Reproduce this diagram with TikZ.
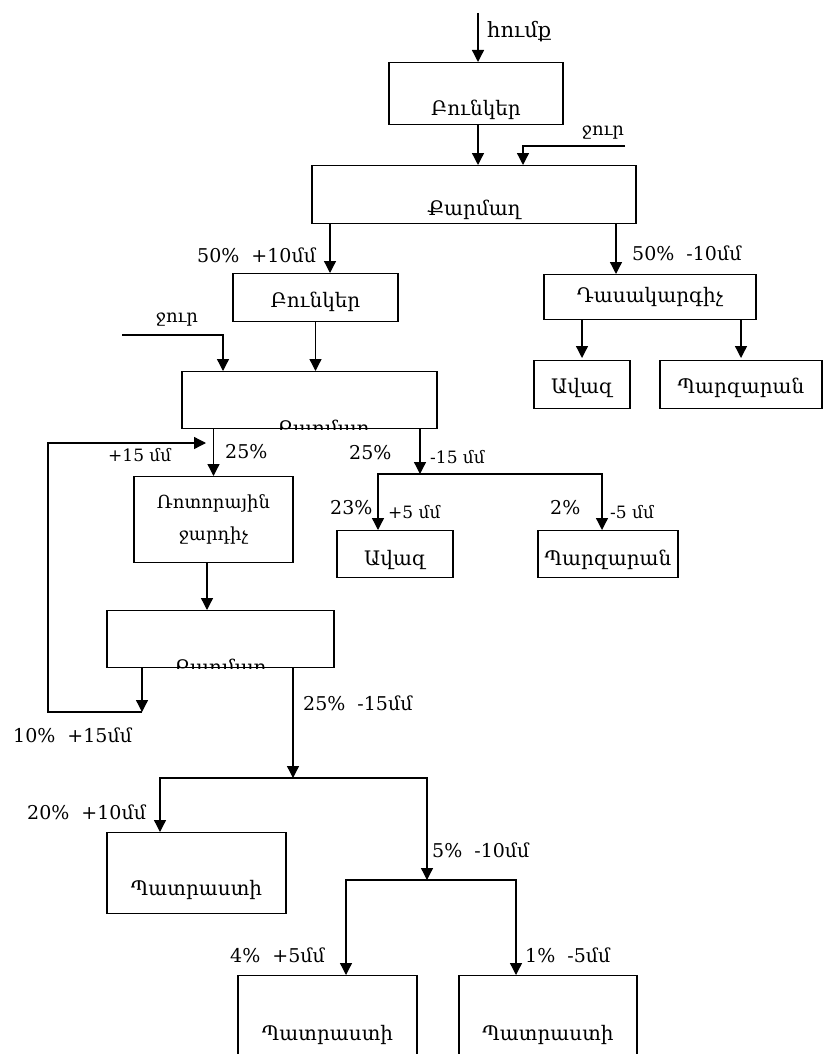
\documentclass[tikz,border=0pt]{standalone}
\usepackage{fontspec}
\setmainfont{DejaVu Serif}
\usetikzlibrary{arrows.meta}
\tikzset{
  arr/.style={line width=1.3pt, -{Triangle[length=12pt,width=12pt]}},
  box/.style={draw, line width=1.3pt, inner sep=0pt, anchor=north, font=\fontsize{20}{24}\selectfont},
  lab/.style={inner sep=0pt, anchor=west, font=\fontsize{19}{22}\selectfont},
  slab/.style={inner sep=0pt, anchor=west, font=\fontsize{17}{20}\selectfont}
}
\begin{document}
\begin{tikzpicture}[x=1pt, y=-1pt]
    \useasboundingbox (0,0) rectangle (824,1054);
    \node[box, minimum width=174pt, text height=53pt, text depth=9pt] (hop1) at (476,62) {Բունկեր};
    \node[box, minimum width=324pt, text height=50pt, text depth=8pt] (scr1) at (474,165) {Քարմաղ};
    \node[box, minimum width=165pt, text height=34pt, text depth=14pt] (hop2) at (315.5,273) {Բունկեր};
    \node[box, minimum width=212pt, text height=28pt, text depth=17pt] (cls) at (650,274) {Դասակարգիչ};
    \node[box, minimum width=96pt, text height=33pt, text depth=15pt] (sand1) at (582,360) {Ավազ};
    \node[box, minimum width=162pt, text height=33pt, text depth=15pt] (clar1) at (741,360) {Պարզարան};
    \node[box, minimum width=255pt, minimum height=57pt] (scr2) at (309.5,371) {};
    \node[box, minimum width=159pt, minimum height=86pt, align=center, font=\fontsize{18}{32}\selectfont] (crush) at (213.5,476) {Ռոտորային\\ջարդիչ};
    \node[box, minimum width=116pt, text height=35pt, text depth=12pt] (sand2) at (395,530) {Ավազ};
    \node[box, minimum width=140pt, text height=35pt, text depth=12pt] (clar2) at (608,530) {Պարզարան};
    \node[box, minimum width=227pt, minimum height=57pt] (scr3) at (220.5,610) {};
    \node[box, minimum width=179pt, text height=63pt, text depth=18pt] (rdy1) at (196.5,832) {Պատրաստի};
    \node[box, minimum width=179pt, text height=65pt, text depth=40pt] (rdy2) at (327.5,975) {Պատրաստի};
    \node[box, minimum width=178pt, text height=65pt, text depth=40pt] (rdy3) at (548,975) {Պատրաստի};
    \begin{scope}
        \clip (scr2.south west) rectangle (scr2.north east);
        \node[lab, anchor=base, font=\fontsize{20}{24}\selectfont] (scr2t) at (323,435) {Քարմաղ};
    \end{scope}
    \begin{scope}
        \clip (scr3.south west) rectangle (scr3.north east);
        \node[lab, anchor=base, font=\fontsize{20}{24}\selectfont] (scr3t) at (220,674) {Քարմաղ};
    \end{scope}
    \coordinate (raw) at (478,13);
    \coordinate (w1) at (625,146);
    \coordinate (w2) at (122,335);
    \coordinate (sp1) at (420,474);
    \coordinate (fb1) at (142,712);
    \coordinate (fb2) at (48,712);
    \coordinate (fb3) at (48,443);
    \coordinate (fbend) at (206,443);
    \coordinate (sp2) at (293,778);
    \coordinate (sp3) at (427,880);
    \path ([xshift=14.5pt]hop2.north) coordinate (hop2in);
    \path ([xshift=-34pt]cls.north) coordinate (clsin);
    \path ([xshift=-6.5pt]crush.south) coordinate (crout);
    \draw[arr] (raw) -- (raw |- hop1.north);
    \draw[arr] (hop1.south -| raw) -- (raw |- scr1.north);
    \draw[arr] (w1) -| ([xshift=49pt]scr1.north);
    \draw[arr] (scr1.south -| hop2in) -- (hop2in);
    \draw[arr] (scr1.south -| clsin) -- (clsin);
    \draw[arr] (cls.south -| sand1.north) -- ([yshift=2pt]sand1.north);
    \draw[arr] (cls.south -| clar1.north) -- ([yshift=2pt]clar1.north);
    \draw[arr] (hop2.south) -- (hop2.south |- scr2.north);
    \draw[arr] (w2) -| ([xshift=-86.5pt]scr2.north);
    \draw[arr] (scr2.south -| crush.north) -- (crush.north);
    \draw[arr] (scr2.south -| sp1) -- (sp1);
    \draw[arr] (sp1) -| ([xshift=-17pt]sand2.north);
    \draw[arr] (sp1) -| ([xshift=-6pt]clar2.north);
    \draw[arr] (crout) -- (crout |- scr3.north);
    \draw[arr] (scr3.south -| fb1) -- (fb1);
    \draw[arr] (fb1) -- (fb2) -- (fb3) -- (fbend);
    \draw[arr] (scr3.south -| sp2) -- (sp2);
    \draw[arr] (sp2) -| ([xshift=-36.5pt]rdy1.north);
    \draw[arr] (sp2) -| (sp3);
    \draw[arr] (sp3) -| ([xshift=18.5pt]rdy2.north);
    \draw[arr] (sp3) -| ([xshift=-32pt]rdy3.north);
    \node[lab, font=\fontsize{21}{24}\selectfont] (lraw) at (487,32) {հումք};
    \node[slab, anchor=center, font=\fontsize{18}{20}\selectfont] (lw1) at (603,133) {ջուր};
    \node[slab, anchor=center, font=\fontsize{18}{20}\selectfont] (lw2) at (177,320) {ջուր};
    \node[lab] (l50a) at (197,255) {50\%\ \ +10մմ};
    \node[lab] (l50b) at (632,253) {50\%\ \ -10մմ};
    \node[slab] (lfb) at (108,455) {+15 մմ};
    \node[lab] (l25a) at (225,452) {25\%};
    \node[lab] (l25b) at (349,453) {25\%};
    \node[slab] (l15) at (430,457) {-15 մմ};
    \node[lab] (l23) at (330,508) {23\%};
    \node[slab] (l5a) at (388,512) {+5 մմ};
    \node[lab] (l2) at (550,508) {2\%};
    \node[slab] (l5b) at (610,512) {-5 մմ};
    \node[lab] (l10) at (13,735) {10\%\ \ +15մմ};
    \node[lab] (l25c) at (303,703) {25\%\ \ -15մմ};
    \node[lab] (l20) at (27,812) {20\%\ \ +10մմ};
    \node[lab] (l5) at (432,850) {5\%\ \ -10մմ};
    \node[lab] (l4) at (230,955) {4\%\ \ +5մմ};
    \node[lab] (l1) at (525,955) {1\%\ \ -5մմ};
\end{tikzpicture}
\end{document}
